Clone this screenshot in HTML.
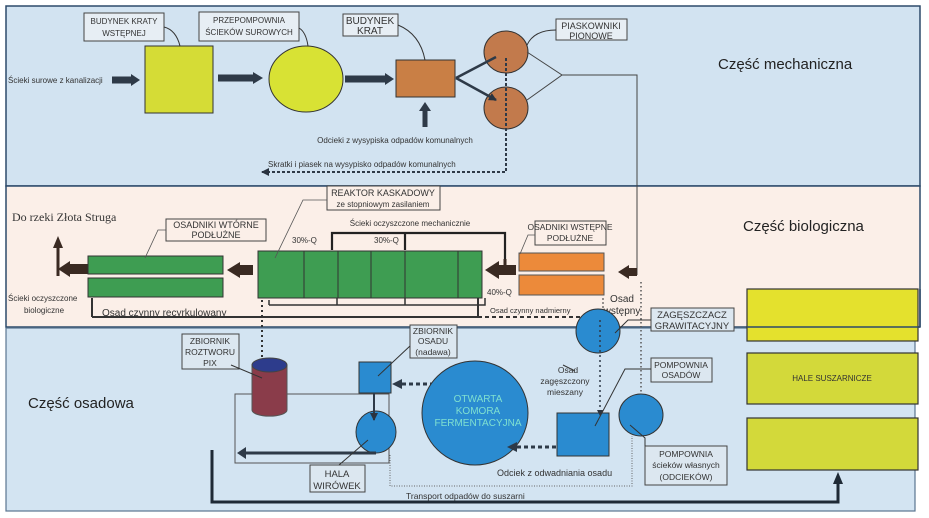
<!DOCTYPE html>
<html><head><meta charset="utf-8"><style>
html,body{margin:0;padding:0;background:#fff}
svg{display:block}
text{font-family:"Liberation Sans",sans-serif}
</style></head><body>
<svg width="929" height="518" viewBox="0 0 929 518" xmlns="http://www.w3.org/2000/svg">
<defs>
<marker id="a" markerWidth="8" markerHeight="8" refX="7" refY="4" orient="auto" markerUnits="userSpaceOnUse"><path d="M0,0 L8,4 L0,8 z" fill="#2a3340"/></marker>
<marker id="s" markerWidth="6" markerHeight="6" refX="5" refY="3" orient="auto" markerUnits="userSpaceOnUse"><path d="M0,0 L6,3 L0,6 z" fill="#2a3340"/></marker>
</defs>
<!-- panels -->
<rect x="6" y="6" width="914" height="180" fill="#d2e3f1" stroke="#2d4a6a" stroke-width="1.5"/>
<rect x="6" y="186" width="914" height="141" fill="#fbefe8" stroke="#2d4a6a" stroke-width="1.5"/>
<rect x="6" y="328" width="909" height="183" fill="#d3e4f2" stroke="#5a7590" stroke-width="1.2"/>

<!-- TOP -->
<text x="8" y="83" font-size="8" fill="#333">Ścieki surowe z kanalizacji</text>
<path d="M112,80 H132" stroke="#2e3a48" stroke-width="7"/><path d="M131,74 L140,80 L131,86z" fill="#2e3a48"/>
<rect x="145" y="46" width="68" height="67" fill="#d5dc36" stroke="#333"/>
<path d="M218,78 H254" stroke="#2e3a48" stroke-width="7"/><path d="M253,72 L263,78 L253,84z" fill="#2e3a48"/>
<ellipse cx="306" cy="79" rx="37" ry="33" fill="#d8e234" stroke="#333"/>
<path d="M345,79 H386" stroke="#2e3a48" stroke-width="7"/><path d="M385,73 L394,79 L385,85z" fill="#2e3a48"/>
<rect x="396" y="60" width="59" height="37" fill="#c97f45" stroke="#333"/>
<path d="M425,127 V110" stroke="#2e3a48" stroke-width="5"/><path d="M419,111 L425,102 L431,111z" fill="#2e3a48"/>
<text x="395" y="143" font-size="8" fill="#333" text-anchor="middle">Odcieki z wysypiska odpadów komunalnych</text>
<ellipse cx="506" cy="52" rx="22" ry="21" fill="#c27a4c" stroke="#333"/>
<ellipse cx="506" cy="108" rx="22" ry="21" fill="#c27a4c" stroke="#333"/>
<path d="M456,78 L496,57 M456,78 L496,100" stroke="#2e3a48" stroke-width="2.5" marker-end="url(#a)"/>
<path d="M527,52 L562,75 L527,100 M562,75 H637 V275" stroke="#444" fill="none" stroke-width="1"/>
<path d="M506,58 V172 H262" stroke="#2e3a48" stroke-width="2" stroke-dasharray="3,2" fill="none" marker-end="url(#a)"/>
<text x="268" y="167" font-size="8" fill="#333">Skratki i piasek na wysypisko odpadów komunalnych</text>
<g fill="#e7eef4" stroke="#444" stroke-width="1">
<rect x="84" y="13" width="80" height="28"/><rect x="199" y="12" width="100" height="29"/><rect x="343" y="14" width="55" height="22"/><rect x="556" y="19" width="71" height="21"/>
</g>
<path d="M164,27 Q176,30 180,46 M299,28 Q306,32 308,46 M398,25 Q420,34 425,60 M556,30 Q534,30 527,45" stroke="#333" fill="none" stroke-width="1"/>
<g font-size="8" fill="#333" text-anchor="middle">
<text x="124" y="24">BUDYNEK KRATY</text><text x="124" y="36">WSTĘPNEJ</text>
<text x="249" y="23">PRZEPOMPOWNIA</text><text x="249" y="35">ŚCIEKÓW SUROWYCH</text>
<text x="370" y="24" font-size="10">BUDYNEK</text><text x="370" y="34" font-size="10">KRAT</text>
<text x="591" y="29" font-size="9">PIASKOWNIKI</text><text x="591" y="39" font-size="9">PIONOWE</text>
</g>
<text x="718" y="69" font-size="15" fill="#222">Część mechaniczna</text>

<!-- MIDDLE -->
<text x="12" y="221" font-size="12" fill="#333" style="font-family:'Liberation Serif',serif">Do rzeki Złota Struga</text>
<path d="M58,276 V246" stroke="#3a2a22" stroke-width="3"/><path d="M53,248 L58,236 L63,248z" fill="#3a2a22"/>
<path d="M88,269 H68" stroke="#3a2a22" stroke-width="10"/><path d="M70,261 L58,269 L70,277z" fill="#3a2a22"/>
<rect x="88" y="256" width="135" height="18" fill="#3e9d52" stroke="#333"/>
<rect x="88" y="278" width="135" height="19" fill="#3e9d52" stroke="#333"/>
<path d="M253,270 H238" stroke="#3a2a22" stroke-width="10"/><path d="M240,262 L227,270 L240,278z" fill="#3a2a22"/>
<rect x="258" y="251" width="224" height="47" fill="#3e9d52" stroke="#333"/>
<path d="M304,251V298 M338,251V298 M371,251V298 M405,251V298 M458,251V298" stroke="#333"/>
<path d="M505,260 V233 H332 V250 M405,233 V250" stroke="#222" stroke-width="2.2" fill="none"/>
<path d="M505,259 V266" stroke="#3a2a22" stroke-width="3"/>
<path d="M516,270 H497" stroke="#3a2a22" stroke-width="10"/><path d="M499,261 L485,270 L499,279z" fill="#3a2a22"/>
<text x="410" y="226" font-size="8" fill="#333" text-anchor="middle">Ścieki oczyszczone mechanicznie</text>
<text x="292" y="243" font-size="8" fill="#333">30%-Q</text><text x="374" y="243" font-size="8" fill="#333">30%-Q</text>
<text x="487" y="295" font-size="8" fill="#333">40%-Q</text>
<rect x="519" y="253" width="85" height="18" fill="#ec8a3a" stroke="#555"/>
<rect x="519" y="275" width="85" height="20" fill="#ec8a3a" stroke="#555"/>
<path d="M637,272 H627" stroke="#3a2a22" stroke-width="8"/><path d="M629,265 L618,272 L629,279z" fill="#3a2a22"/>
<path d="M269,305 V300 M269,305 H485 V298 M337,305 V298 M405,305 V298" stroke="#333" stroke-width="1.5" fill="none"/>
<path d="M92,317 V298 M92,317 H478 V298" stroke="#333" stroke-width="2" fill="none"/>
<path d="M478,317 H603" stroke="#333" stroke-width="2" stroke-dasharray="4,3"/>
<path d="M603,298 V316" stroke="#333" stroke-dasharray="2,2"/>
<text x="8" y="301" font-size="8" fill="#333">Ścieki oczyszczone</text><text x="44" y="313" font-size="8" fill="#333" text-anchor="middle">biologiczne</text>
<text x="102" y="316" font-size="10" fill="#333">Osad czynny recyrkulowany</text>
<text x="490" y="313" font-size="7.5" fill="#333">Osad czynny nadmierny</text>
<text x="622" y="302" font-size="10" fill="#333" text-anchor="middle">Osad</text><text x="622" y="314" font-size="10" fill="#333" text-anchor="middle">wstępny</text>
<g fill="#fbefe8" stroke="#444">
<rect x="327" y="186" width="113" height="24"/><rect x="166" y="219" width="100" height="22"/><rect x="535" y="221" width="71" height="24"/>
</g>
<path d="M327,200 H303 L275,258 M166,230 H158 L145,258 M535,235 H528 L520,254" stroke="#555" fill="none" stroke-width="0.8"/>
<g font-size="9" fill="#333" text-anchor="middle">
<text x="383" y="196">REAKTOR KASKADOWY</text><text x="383" y="207" font-size="8">ze stopniowym zasilaniem</text>
<text x="216" y="228">OSADNIKI WTÓRNE</text><text x="216" y="238">PODŁUŻNE</text>
<text x="570" y="230" font-size="8.5">OSADNIKI WSTĘPNE</text><text x="570" y="241" font-size="8.5">PODŁUŻNE</text>
</g>
<text x="743" y="231" font-size="15" fill="#222">Część biologiczna</text>

<!-- right yellow -->
<rect x="747" y="289" width="171" height="52" fill="#e4e12d" stroke="#333" stroke-width="1.2"/>
<rect x="747" y="353" width="171" height="51" fill="#d3d93a" stroke="#333" stroke-width="1.2"/>
<rect x="747" y="418" width="171" height="52" fill="#d3d93a" stroke="#333" stroke-width="1.2"/>
<text x="832" y="381" font-size="8" fill="#333" text-anchor="middle">HALE SUSZARNICZE</text>
<path d="M747,327 H920 M920,289 V327" stroke="#2d4a6a" stroke-width="1.5"/>

<!-- BOTTOM -->
<text x="28" y="408" font-size="15" fill="#222">Część osadowa</text>
<path d="M262,300 V358" stroke="#333" stroke-width="2" stroke-dasharray="2,3"/>
<rect x="235" y="394" width="154" height="69" fill="none" stroke="#555"/>
<path d="M252,365 V410 A17,6 0 0 0 287,410 V365z" fill="#8a3c4a" stroke="#555"/>
<ellipse cx="269.5" cy="365" rx="17.5" ry="7" fill="#2d3c8c" stroke="#444"/>
<rect x="359" y="362" width="32" height="31" fill="#2a8bd0" stroke="#333"/>
<ellipse cx="376" cy="432" rx="20" ry="21" fill="#2a8bd0" stroke="#333"/>
<path d="M374,393 V420" stroke="#2e3a48" stroke-width="2" marker-end="url(#a)"/>
<path d="M376,453 H244" stroke="#2e3a48" stroke-width="3"/><path d="M246,447 L237,453 L246,459z" fill="#2e3a48"/>
<path d="M448,384 H400" stroke="#2e3a48" stroke-width="3" stroke-dasharray="4,3"/><path d="M402,379 L392,384 L402,389z" fill="#2e3a48"/>
<ellipse cx="475" cy="413" rx="53" ry="52" fill="#2a8bd0" stroke="#333"/>
<g font-size="10" fill="#7fe0d0" text-anchor="middle"><text x="478" y="402">OTWARTA</text><text x="478" y="414">KOMORA</text><text x="478" y="426">FERMENTACYJNA</text></g>
<rect x="557" y="413" width="52" height="43" fill="#2a8bd0" stroke="#333"/>
<path d="M556,447 H515" stroke="#2e3a48" stroke-width="3" stroke-dasharray="4,3"/><path d="M517,442 L507,447 L517,452z" fill="#2e3a48"/>
<ellipse cx="598" cy="331" rx="22" ry="22" fill="#2a8bd0" stroke="#333"/>
<path d="M600,320 V415" stroke="#2e3a48" stroke-width="1.5" stroke-dasharray="2,3" marker-end="url(#s)"/>
<ellipse cx="641" cy="415" rx="22" ry="21" fill="#2a8bd0" stroke="#333"/>
<path d="M641,282 V394" stroke="#555" stroke-width="1.5" stroke-dasharray="1.5,2.5"/>
<path d="M390,455 V486 H632 V436" stroke="#666" fill="none" stroke-width="1" stroke-dasharray="1,1.5"/>
<path d="M575,371 L563,365" stroke="#333"/>
<text x="568" y="373" font-size="8.5" fill="#333" text-anchor="middle">Osad</text>
<text x="565" y="384" font-size="8.5" fill="#333" text-anchor="middle">zagęszczony</text>
<text x="565" y="395" font-size="8.5" fill="#333" text-anchor="middle">mieszany</text>
<text x="497" y="476" font-size="9" fill="#333">Odciek z odwadniania osadu</text>
<path d="M212,450 V502 H838 V484" stroke="#1f2a36" stroke-width="3" fill="none"/><path d="M833,484 L838,472 L843,484z" fill="#1f2a36"/>
<text x="406" y="499" font-size="8.5" fill="#333">Transport odpadów do suszarni</text>
<g fill="#dce7f0" stroke="#444">
<rect x="182" y="334" width="57" height="35"/><rect x="410" y="325" width="47" height="33"/>
<rect x="651" y="308" width="83" height="23"/><rect x="651" y="358" width="61" height="24"/>
<rect x="645" y="446" width="82" height="39"/><rect x="310" y="465" width="55" height="27"/>
</g>
<path d="M231,365 L262,378 M410,346 L378,376 M651,320 H628 L615,333 M651,369 H625 L595,426 M645,446 V438 L630,425 M339,465 L368,440" stroke="#333" fill="none"/>
<g font-size="8.5" fill="#333" text-anchor="middle">
<text x="210" y="344">ZBIORNIK</text><text x="210" y="355">ROZTWORU</text><text x="210" y="366">PIX</text>
<text x="433" y="334">ZBIORNIK</text><text x="433" y="344">OSADU</text><text x="433" y="355">(nadawa)</text>
<text x="692" y="318" font-size="9.5">ZAGĘSZCZACZ</text><text x="692" y="329" font-size="9.5">GRAWITACYJNY</text>
<text x="681" y="368">POMPOWNIA</text><text x="681" y="378">OSADÓW</text>
<text x="686" y="457">POMPOWNIA</text><text x="686" y="468">ścieków własnych</text><text x="686" y="480">(ODCIEKÓW)</text>
<text x="337" y="477" font-size="9.5">HALA</text><text x="337" y="489" font-size="9.5">WIRÓWEK</text>
</g>
</svg>
</body></html>
